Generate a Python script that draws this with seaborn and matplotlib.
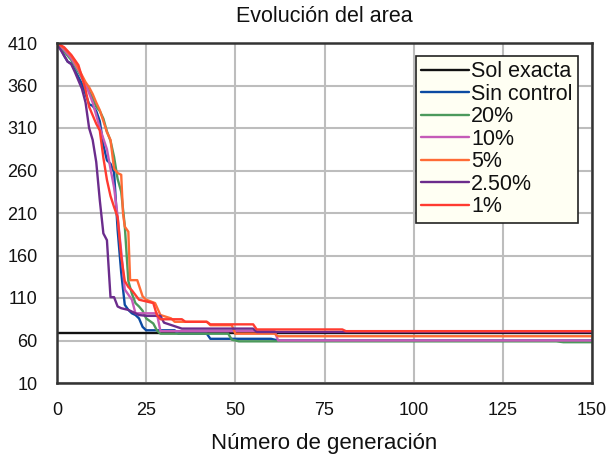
import matplotlib
matplotlib.use("Agg")
import matplotlib.pyplot as plt
import seaborn as sns
import pandas as pd

# Generation breakpoints and best area per strategy
sol_gen = [0, 150]
sol_area = [69, 69]

sin_gen = [0, 1, 2, 3, 4, 5, 6, 7, 8, 9, 10, 11, 12, 13, 14, 15, 16, 17, 18, 19, 20, 21, 22, 23, 24, 25, 33, 34, 42, 43, 60, 62, 150]
sin_area = [408, 404, 395, 388, 386, 378, 370, 362, 350, 338, 336, 330, 318, 290, 272, 268, 258, 190, 140, 102, 96, 92, 90, 86, 76, 72, 72, 68, 68, 62, 62, 60, 60]

p20_gen = [0, 2, 4, 6, 8, 10, 11, 12, 13, 14, 15, 16, 17, 18, 19, 20, 21, 22, 23, 24, 25, 27, 28, 29, 48, 49, 51, 140, 142, 150]
p20_area = [410, 400, 390, 376, 362, 345, 335, 330, 321, 306, 295, 276, 250, 235, 195, 130, 115, 104, 100, 95, 86, 80, 72, 68, 68, 61, 59, 59, 58, 58]

p10_gen = [0, 2, 4, 6, 8, 10, 12, 14, 15, 16, 17, 18, 19, 21, 22, 28, 29, 61, 62, 150]
p10_area = [410, 402, 392, 378, 362, 340, 310, 285, 262, 240, 206, 165, 120, 108, 92, 92, 71, 71, 60, 60]

p5_gen = [0, 2, 4, 5, 6, 7, 8, 9, 10, 11, 12, 13, 14, 15, 16, 17, 18, 18.5, 19, 20, 20.5, 22.5, 24, 25, 27.5, 29, 32, 33, 42, 43, 49, 50, 61, 62, 150]
p5_area = [410, 404, 395, 388, 380, 372, 364, 358, 350, 340, 331, 318, 305, 296, 262, 257, 255, 210, 194, 188, 131, 131, 112, 108, 104, 90, 86, 82, 82, 78, 78, 68, 68, 65, 65]

p25_gen = [0, 1, 2, 3, 4, 5, 6, 7, 8, 9, 10, 11, 12, 13, 14, 15, 16, 17, 18, 20, 23, 25, 29, 30, 35, 55, 56, 150]
p25_area = [408, 402, 395, 388, 385, 376, 366, 356, 340, 310, 296, 270, 225, 186, 178, 111, 111, 100, 98, 96, 90, 89, 89, 81, 74, 74, 70, 70]

p1_gen = [0, 2, 4, 6, 7, 8, 9, 10, 11, 12, 13, 14, 15, 16, 17, 18, 19, 20, 21, 23, 27, 28, 29, 35, 36, 42, 43, 55, 56, 80, 81, 150]
p1_area = [410, 405, 396, 384, 370, 355, 335, 325, 315, 307, 275, 249, 230, 217, 205, 159, 130, 123, 119, 108, 104, 90, 85, 85, 82, 82, 79, 79, 73, 73, 71, 71]

series = [
    ("Sol exacta", sol_gen, sol_area, "#111111"),
    ("Sin control", sin_gen, sin_area, "#0b4aa2"),
    ("20%", p20_gen, p20_area, "#4c9a5c"),
    ("10%", p10_gen, p10_area, "#c55bb8"),
    ("5%", p5_gen, p5_area, "#ff6b35"),
    ("2.50%", p25_gen, p25_area, "#6b2c8c"),
    ("1%", p1_gen, p1_area, "#ff3b30"),
]

frames = []
for name, g, a, _ in series:
    frames.append(pd.DataFrame({"gen": g, "area": a, "serie": name}))
df = pd.concat(frames, ignore_index=True)
palette = {name: c for name, _, _, c in series}
order = [s[0] for s in series]

sns.set_style("white")
plt.rcParams["font.family"] = ["Liberation Sans", "DejaVu Sans"]

fig = plt.figure(figsize=(6.07, 4.62), dpi=100)
ax = fig.add_axes([57 / 607, 1 - 383 / 462, 535 / 607, 340 / 462])

ax.grid(True, color="#bdbdbd", linewidth=1.5)
ax.set_axisbelow(True)

sns.lineplot(data=df, x="gen", y="area", hue="serie", hue_order=order,
             palette=palette, estimator=None, sort=False, linewidth=1.7,
             ax=ax, legend=True)

ax.set_xlim(0, 150)
ax.set_ylim(10, 410)
ax.set_xticks([0, 25, 50, 75, 100, 125, 150])
ax.set_yticks([10, 60, 110, 160, 210, 260, 310, 360, 410])
ax.tick_params(axis="y", direction="in", length=7, width=1.5, color="#333333",
               labelsize=13, pad=14, labelcolor="#111111")
ax.tick_params(axis="x", length=0, labelsize=13, pad=14, labelcolor="#111111")
for sp in ax.spines.values():
    sp.set_visible(True)
    sp.set_color("#333333")
    sp.set_linewidth(1.8)

ax.set_title("Evolución del area", fontsize=15.5, pad=15, color="#111111")
ax.set_xlabel("Número de generación", fontsize=16, labelpad=10, color="#111111")
ax.set_ylabel("")

handles, labels = ax.get_legend_handles_labels()
leg = ax.legend(handles, labels, loc="upper right", bbox_to_anchor=(0.974, 0.962),
                borderaxespad=0, fontsize=15.5, labelspacing=0.07,
                handlelength=2.2, handletextpad=0.12, borderpad=0.25,
                fancybox=False, framealpha=1, facecolor="#fffff3",
                edgecolor="#222222")
leg.get_frame().set_linewidth(1.2)
for t in leg.get_texts():
    t.set_color("#111111")

fig.savefig("out.png", dpi=100)
